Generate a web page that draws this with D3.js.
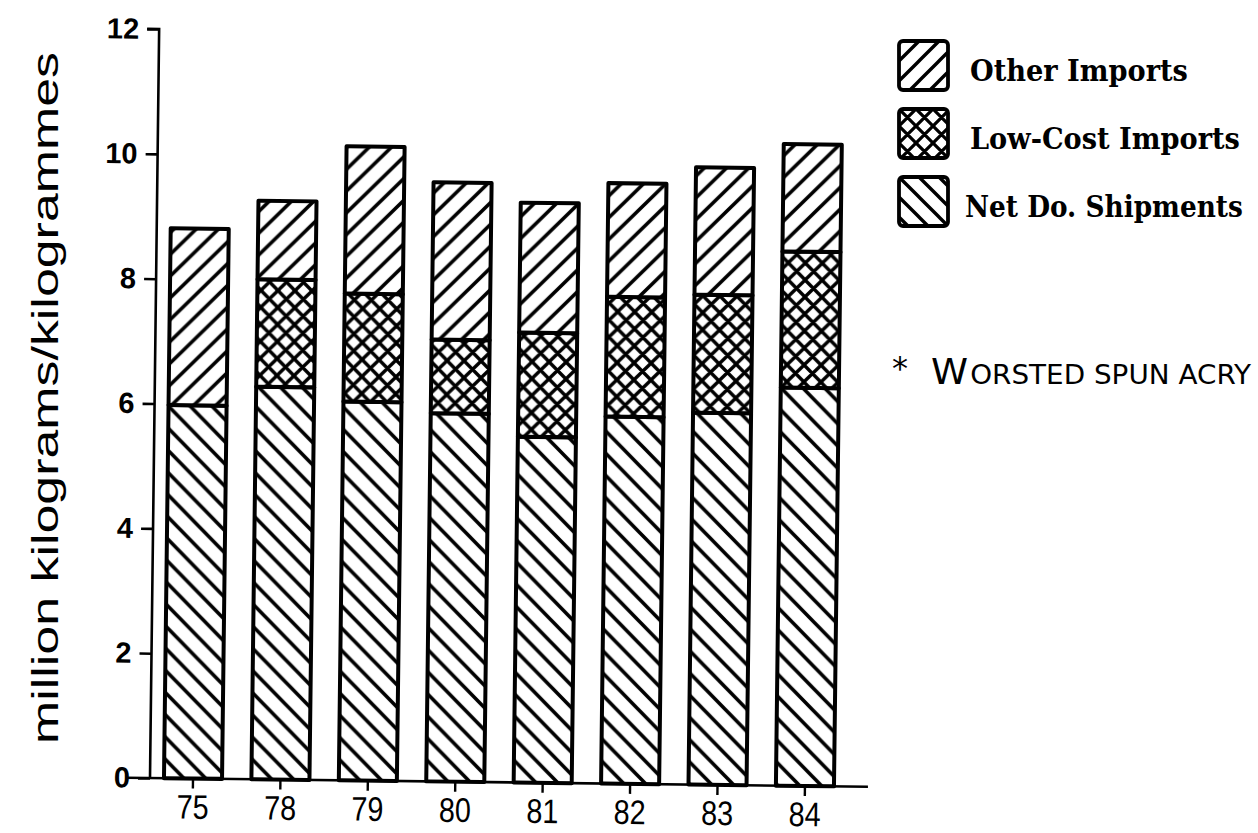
<!DOCTYPE html>
<html>
<head>
<meta charset="utf-8">
<script src="https://cdn.jsdelivr.net/npm/d3@7"></script>
<style>
  html, body { margin: 0; padding: 0; background: #fff; }
  svg { display: block; }
</style>
</head>
<body>
<svg id="chart" width="1258" height="833"></svg>
<script>
// ---- data ----
const categories   = ["75", "78", "79", "80", "81", "82", "83", "84"];
const netDomestic  = [5.98, 6.29, 6.07, 5.90, 5.54, 5.88, 5.96, 6.38];
const lowCost      = [0.00, 1.72, 1.73, 1.18, 1.67, 1.92, 1.89, 2.18];
const otherImports = [2.83, 1.26, 2.36, 2.52, 2.08, 1.82, 2.04, 1.72];
const yTicks       = [0, 2, 4, 6, 8, 10, 12];
const seriesKeys   = ["net", "low", "other"];
const legendLabels = ["Other Imports", "Low-Cost Imports", "Net Do. Shipments"];
const legendKeys   = ["other", "low", "net"];
const yTitle       = "million kilograms/kilogrammes";
const noteStar     = "*";
const noteCap      = "W";
const noteRest     = "ORSTED SPUN ACRY";

const rows = categories.map((c, i) => ({
  cat: c, net: netDomestic[i], low: lowCost[i], other: otherImports[i]
}));

const svg = d3.select("#chart");
const defs = svg.append("defs");

function hatch(id, size, dir, sw) {
  const p = defs.append("pattern").attr("id", id)
    .attr("patternUnits", "userSpaceOnUse")
    .attr("width", size).attr("height", size);
  const s = size, q = size / 4;
  let d;
  if (dir === "fwd") {
    d = `M0,${s} L${s},0 M${-q},${q} L${q},${-q} M${s - q},${s + q} L${s + q},${s - q}`;
  } else {
    d = `M0,0 L${s},${s} M${-q},${s - q} L${q},${s + q} M${s - q},${-q} L${s + q},${q}`;
  }
  p.append("rect").attr("width", s).attr("height", s).attr("fill", "#fff");
  p.append("path").attr("d", d).attr("stroke", "#000").attr("stroke-width", sw)
    .attr("fill", "none").attr("stroke-linecap", "square");
}
function cross(id, size, sw) {
  const p = defs.append("pattern").attr("id", id)
    .attr("patternUnits", "userSpaceOnUse")
    .attr("width", size).attr("height", size);
  const s = size, q = size / 4;
  p.append("rect").attr("width", s).attr("height", s).attr("fill", "#fff");
  const d = `M0,${s} L${s},0 M${-q},${q} L${q},${-q} M${s - q},${s + q} L${s + q},${s - q} ` +
            `M0,0 L${s},${s} M${-q},${s - q} L${q},${s + q} M${s - q},${-q} L${s + q},${q}`;
  p.append("path").attr("d", d).attr("stroke", "#000").attr("stroke-width", sw)
    .attr("fill", "none").attr("stroke-linecap", "square");
}
hatch("pOther", 22, "fwd", 3.6);
hatch("pNet", 22, "back", 3.6);
cross("pLow", 17, 3.4);
hatch("lOther", 20, "fwd", 3.4);
hatch("lNet", 20, "back", 3.4);
cross("lLow", 17, 3.2);

const fillFor = { other: "url(#pOther)", low: "url(#pLow)", net: "url(#pNet)" };
const legendFill = { other: "url(#lOther)", low: "url(#lLow)", net: "url(#lNet)" };

// ---- scales ----
const x = d3.scaleBand().domain(categories).range([149.3, 848.7])
  .paddingInner(0.336).paddingOuter(0.168);
const y = d3.scaleLinear().domain([0, 12]).range([778, 29]);

// whole plot is slightly rotated, like the scanned original
const g = svg.append("g").attr("transform", "rotate(0.7,150,778)");

// ---- bars ----
const stacked = d3.stack().keys(seriesKeys)(rows);
const layers = g.append("g").selectAll("g").data(stacked).join("g");
layers.selectAll("rect")
  .data(d => d.map(v => ({ key: d.key, v })))
  .join("rect")
  .filter(d => d.v[1] - d.v[0] > 0)
  .attr("x", d => x(d.v.data.cat))
  .attr("y", d => y(d.v[1]))
  .attr("width", x.bandwidth())
  .attr("height", d => y(d.v[0]) - y(d.v[1]))
  .attr("fill", d => fillFor[d.key])
  .attr("stroke", "#000")
  .attr("stroke-width", 4)
  .attr("stroke-linejoin", "round");

// ---- y axis ----
const yAxis = d3.axisLeft(y).tickValues(yTicks).tickSize(12).tickPadding(8).tickFormat(d3.format("d"));
const ya = g.append("g").attr("transform", "translate(150,0)").call(yAxis);
ya.attr("font-size", null).attr("font-family", null);
ya.select(".domain").attr("stroke", "#000").attr("stroke-width", 2.6)
  .attr("d", `M-12,${y(12)}H0V${y(0)}`);
ya.selectAll(".tick line").attr("stroke", "#000").attr("stroke-width", 2.6);
ya.selectAll(".tick text")
  .style("font-family", "'Liberation Sans', Arial, sans-serif")
  .style("font-weight", "bold").style("font-size", "29px").attr("fill", "#000");

// ---- x axis ----
const xAxis = d3.axisBottom(x).tickSize(10).tickPadding(6);
const xa = g.append("g").attr("transform", `translate(0,${y(0)})`).call(xAxis);
xa.attr("font-size", null).attr("font-family", null);
xa.select(".domain").attr("stroke", "#000").attr("stroke-width", 2.6)
  .attr("d", "M126,0H868");
xa.selectAll(".tick line").attr("stroke", "#000").attr("stroke-width", 2.4);
xa.selectAll(".tick text")
  .style("font-family", "'Liberation Sans Narrow', 'Arial Narrow', 'Liberation Sans', sans-serif")
  .style("font-size", "34px").attr("fill", "#000")
  .attr("textLength", 32).attr("lengthAdjust", "spacingAndGlyphs");

// ---- y title ----
svg.append("text")
  .attr("transform", "translate(58,398) rotate(-90)")
  .attr("text-anchor", "middle")
  .attr("font-family", "'Liberation Sans', Arial, sans-serif")
  .attr("font-size", 36)
  .attr("textLength", 692).attr("lengthAdjust", "spacingAndGlyphs")
  .attr("fill", "#000")
  .text(yTitle);

// ---- legend ----
const lg = svg.append("g");
const lgItems = lg.selectAll("g").data(legendKeys).join("g")
  .attr("transform", (d, i) => `translate(899,${41 + i * 68})`);
lgItems.append("rect")
  .attr("width", 49).attr("height", 49).attr("rx", 4)
  .attr("fill", d => legendFill[d])
  .attr("stroke", "#000").attr("stroke-width", 3.8);
const lgLens = [218, 270, 278];
const lgX = [71, 71, 66];
lgItems.append("text")
  .attr("font-family", "'DejaVu Serif', 'Liberation Serif', serif")
  .attr("font-weight", "bold").attr("font-size", 30)
  .attr("fill", "#000")
  .text((d, i) => legendLabels[i])
  .each(function (d, i) {
    const w = this.getComputedTextLength();
    const sx = lgLens[i] / w;
    d3.select(this).attr("transform", `translate(${lgX[i]},40) scale(${sx},1)`);
  });

// ---- footnote ----
svg.append("text").attr("x", 892).attr("y", 379)
  .attr("font-family", "'DejaVu Sans', sans-serif").attr("font-size", 32).attr("fill", "#000")
  .text(noteStar);
const note = svg.append("text")
  .attr("font-family", "'DejaVu Sans', sans-serif").attr("fill", "#000");
note.append("tspan").attr("font-size", 35).text(noteCap);
note.append("tspan").attr("font-size", 26).attr("dx", 2).text(noteRest);
{
  const w = note.node().getComputedTextLength();
  note.attr("transform", `translate(931,384) scale(${318 / w},1)`);
}
</script>
</body>
</html>
